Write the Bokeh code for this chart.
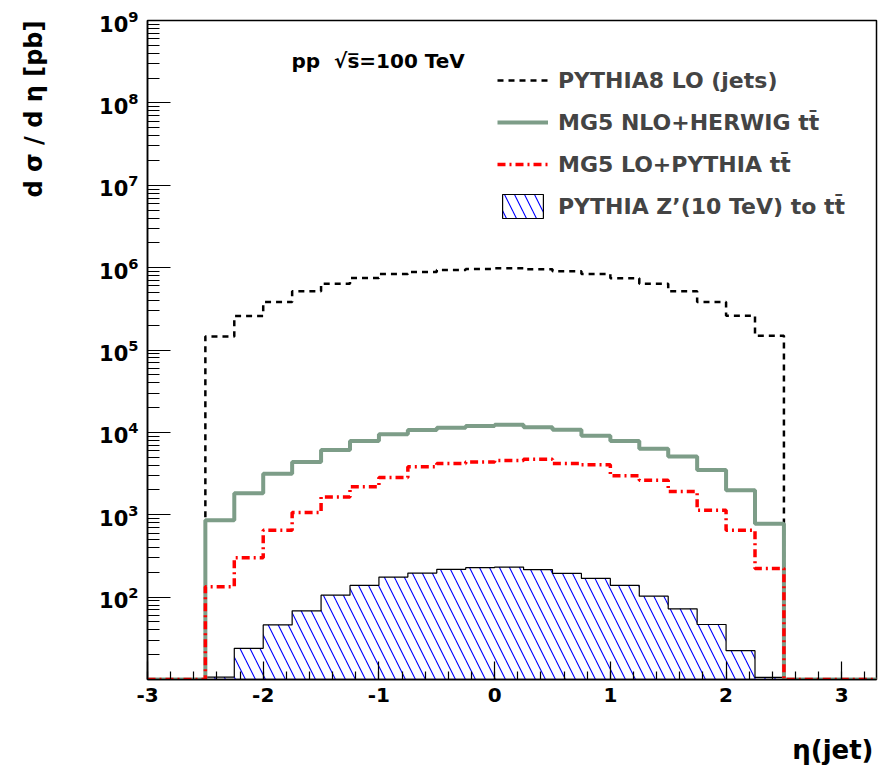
import numpy as np
from bokeh.plotting import figure
from bokeh.models import (FixedTicker, Legend, LegendItem, Label, Title, Range1d)
from bokeh.embed import file_html
from bokeh.resources import INLINE

# ---------------- data ----------------
# bin edges of eta(jet) histograms, 0.25 wide, from -3.0 to 3.5 (26 bins)
eta_edges = [-3.0, -2.75, -2.5, -2.25, -2.0, -1.75, -1.5, -1.25, -1.0, -0.75, -0.5, -0.25,
             0.0, 0.25, 0.5, 0.75, 1.0, 1.25, 1.5, 1.75, 2.0, 2.25, 2.5, 2.75, 3.0, 3.25, 3.5]

# d sigma / d eta [pb] per bin (bins outside |eta|<2.5 are empty)
pythia8_lo_jets = [0, 0,
                   1.46e5, 2.58e5, 3.82e5, 5.15e5, 6.38e5, 7.48e5, 8.38e5, 8.85e5, 9.38e5, 9.64e5,
                   9.82e5, 9.55e5, 9.02e5, 8.38e5, 7.41e5, 6.38e5, 5.15e5, 3.82e5, 2.61e5, 1.49e5,
                   0, 0, 0, 0]
mg5_nlo_herwig_tt = [0, 0,
                     857, 1828, 3141, 4355, 6095, 7834, 9462, 10666, 11402, 11940,
                     12388, 11508, 10765, 9099, 7834, 6324, 5105, 3483, 1986, 780,
                     0, 0, 0, 0]
mg5_lo_pythia_tt = [0, 0,
                    134, 301, 647, 1062, 1648, 2183, 2831, 3819, 4198, 4355,
                    4571, 4732, 4198, 4046, 2972, 2630, 1914, 1135, 647, 223,
                    0, 0, 0, 0]
pythia_zprime_tt = [0, 0,
                    10.7, 23.9, 46.0, 68.2, 105.7, 138.7, 175.0, 195.9, 217.3, 227.5,
                    231.7, 215.3, 194.1, 168.7, 138.7, 102.8, 72.1, 46.5, 22.4, 10.6,
                    0, 0, 0, 0]

x_major_ticks = [-3, -2, -1, 0, 1, 2, 3]
x_tick_labels = ["-3", "-2", "-1", "0", "1", "2", "3"]
y_major_ticks = [1e2, 1e3, 1e4, 1e5, 1e6, 1e7, 1e8, 1e9]

labels = ["PYTHIA8 LO (jets)", "MG5 NLO+HERWIG tt\u0304", "MG5 LO+PYTHIA tt\u0304",
          "PYTHIA Z\u2019(10 TeV) to tt\u0304"]
x_title = "\u03b7(jet)"
y_title = "d \u03c3 / d \u03b7 [pb]"

X_MIN, X_MAX = -3.0, 3.3
Y_MIN, Y_MAX = 10.0, 1e9

FONT = "DejaVu Sans"

# ---------------- figure ----------------
p = figure(width=884, height=765, output_backend="svg", toolbar_location=None,
           y_axis_type="log", x_range=Range1d(X_MIN, X_MAX), y_range=Range1d(Y_MIN, Y_MAX),
           min_border_left=147, min_border_right=8, min_border_top=20, min_border_bottom=86)
p.title.visible = False
p.xgrid.visible = False
p.ygrid.visible = False
p.outline_line_color = "black"
p.outline_line_width = 1.5
p.background_fill_color = "white"
p.border_fill_color = "white"

edges = np.array(eta_edges)


def step_vals(vals):
    v = np.maximum(np.array(vals, dtype=float), Y_MIN)  # empty bins drawn on the frame floor
    return np.append(v, v[-1])


# Z' hatched histogram as a patch
zv = np.array(pythia_zprime_tt, dtype=float)
idx = np.where(zv > 0)[0]
e_lo, e_hi = idx[0], idx[-1] + 1
pe = edges[e_lo:e_hi + 1]
pv = zv[e_lo:e_hi]
zx = np.repeat(pe, 2)
zy = np.concatenate([[Y_MIN], np.repeat(pv, 2), [Y_MIN]])
r_z = p.patch(zx, zy, fill_color="white", fill_alpha=0.0, line_color="black", line_width=1.2,
              hatch_pattern="\\", hatch_color="#0000ff", hatch_weight=1.1, hatch_scale=20)

r_black = p.step(edges, step_vals(pythia8_lo_jets), mode="after", line_color="black",
                 line_width=2.5, line_dash="6 5")
r_green = p.step(edges, step_vals(mg5_nlo_herwig_tt), mode="after", line_color="#7d9d88",
                 line_width=4)
r_red = p.step(edges, step_vals(mg5_lo_pythia_tt), mode="after", line_color="#ff0000",
               line_width=3.5, line_dash="8 4 2 4")

# ---------------- axes ----------------
minor_x = [round(-3 + 0.2 * i, 2) for i in range(0, 32)]
p.xaxis.ticker = FixedTicker(ticks=x_major_ticks, minor_ticks=minor_x)
p.xaxis.major_label_overrides = dict(zip(x_major_ticks, x_tick_labels))
minor_y = [k * 10.0 ** n for n in range(1, 9) for k in range(2, 10)]
p.yaxis.ticker = FixedTicker(ticks=y_major_ticks, minor_ticks=minor_y)

for ax in (p.xaxis[0], p.yaxis[0]):
    ax.major_tick_out = 0
    ax.minor_tick_out = 0
    ax.axis_line_color = "black"
    ax.axis_line_width = 1.5
    ax.major_tick_line_color = "black"
    ax.minor_tick_line_color = "black"
    ax.major_tick_line_width = 1.2
    ax.minor_tick_line_width = 1.2
    ax.major_label_text_font = FONT
    ax.major_label_text_font_style = "bold"
    ax.major_label_text_color = "black"

p.xaxis.major_tick_in = 18
p.xaxis.minor_tick_in = 8
p.xaxis.major_label_standoff = 8
p.xaxis.major_label_text_font_size = "20px"

p.yaxis.major_tick_in = 23
p.yaxis.minor_tick_in = 12
p.yaxis.major_label_standoff = 9
p.yaxis.major_label_text_font_size = "21px"

# axis titles placed at the far end of each axis (ROOT style); blank spacers push them outward
p.add_layout(Title(text="\u00a0", text_font_size="10px", standoff=33), "left")
p.add_layout(Title(text=y_title, align="right", vertical_align="top", standoff=2,
                   text_font=FONT, text_font_style="bold", text_font_size="24px",
                   text_color="black"), "left")
p.add_layout(Title(text="\u00a0", text_font_size="10px", standoff=14), "below")
p.add_layout(Title(text=x_title, align="right", standoff=2, offset=3,
                   text_font=FONT, text_font_style="bold", text_font_size="26px",
                   text_color="black"), "below")

# ---------------- annotations ----------------
p.add_layout(Label(x=144, y=619, x_units="screen", y_units="screen",
                   text="pp\u00a0\u00a0\u221as\u0305=100 TeV", text_font=FONT, text_font_style="bold",
                   text_font_size="20px", text_baseline="alphabetic", text_color="black"))

legend = Legend(items=[LegendItem(label=labels[0], renderers=[r_black]),
                       LegendItem(label=labels[1], renderers=[r_green]),
                       LegendItem(label=labels[2], renderers=[r_red]),
                       LegendItem(label=labels[3], renderers=[r_z])],
                location=(350, 458), glyph_width=51, glyph_height=30, spacing=12,
                padding=0, margin=0, label_standoff=10, border_line_color=None,
                background_fill_alpha=0.0, label_text_font=FONT,
                label_text_font_style="bold", label_text_font_size="22px",
                label_height=30)
p.add_layout(legend)

open("out.html", "w").write(file_html(p, INLINE))
